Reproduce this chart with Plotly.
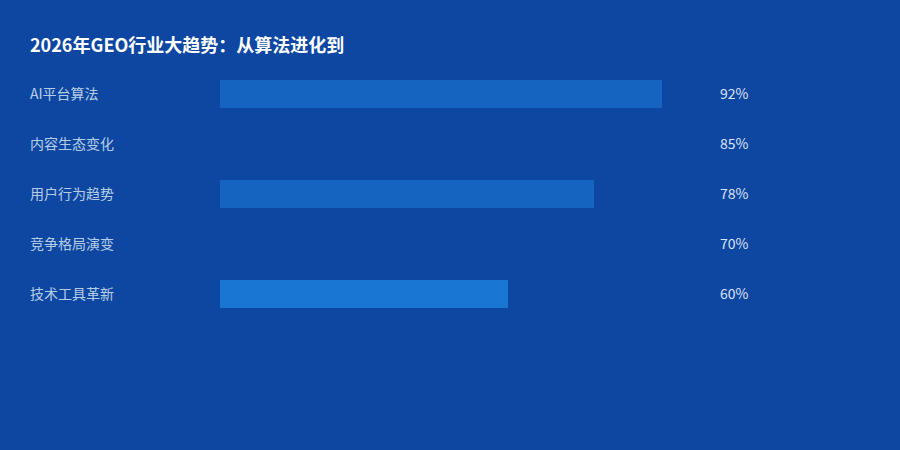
import plotly.graph_objects as go

categories = ["AI平台算法", "内容生态变化", "用户行为趋势", "竞争格局演变", "技术工具革新"]
values = [92, 85, 78, 70, 60]
value_labels = ["92%", "85%", "78%", "70%", "60%"]
bar_colors = ["#1565c0", "#0d47a1", "#1565c0", "#0d47a1", "#1976d2"]

BG = "#0d47a1"
W, H = 900, 450
FONT = "Noto Sans CJK SC, Noto Sans, sans-serif"

fig = go.Figure()
fig.add_trace(go.Bar(
    x=values, y=categories, orientation="h",
    marker=dict(color=bar_colors, line=dict(width=0)),
    width=0.56, hoverinfo="skip", showlegend=False,
))

annotations = []
for cat, lab in zip(categories, value_labels):
    annotations.append(dict(x=28 / W, xref="paper", y=cat, yref="y", text=cat,
                            xanchor="left", yanchor="middle", showarrow=False, yshift=1,
                            font=dict(size=14, color="rgba(227,242,253,0.8)", family=FONT)))
    annotations.append(dict(x=718 / W, xref="paper", y=cat, yref="y", text=lab,
                            xanchor="left", yanchor="middle", showarrow=False, yshift=1,
                            font=dict(size=14, color="rgba(240,246,255,0.92)", family=FONT)))
annotations.append(dict(x=28 / W, xref="paper", y=1 - 44 / H, yref="paper",
                        text="<b>2026年GEO行业大趋势：从算法进化到</b>",
                        xanchor="left", yanchor="middle", showarrow=False,
                        font=dict(size=18, color="#ffffff", family=FONT)))

fig.update_layout(
    width=W, height=H,
    margin=dict(l=0, r=0, t=0, b=0),
    paper_bgcolor=BG, plot_bgcolor=BG,
    xaxis=dict(domain=[220 / W, 700 / W], range=[0, 100], visible=False, fixedrange=True),
    yaxis=dict(domain=[1 - 319 / H, 1 - 69 / H], range=[4.5, -0.5], visible=False,
               categoryorder="array", categoryarray=categories, fixedrange=True),
    annotations=annotations,
    font=dict(family=FONT),
    bargap=0,
)

fig.write_html("out.html", config={"displayModeBar": False},
               post_script="document.body.style.margin='0';document.body.style.background='%s';" % BG)
